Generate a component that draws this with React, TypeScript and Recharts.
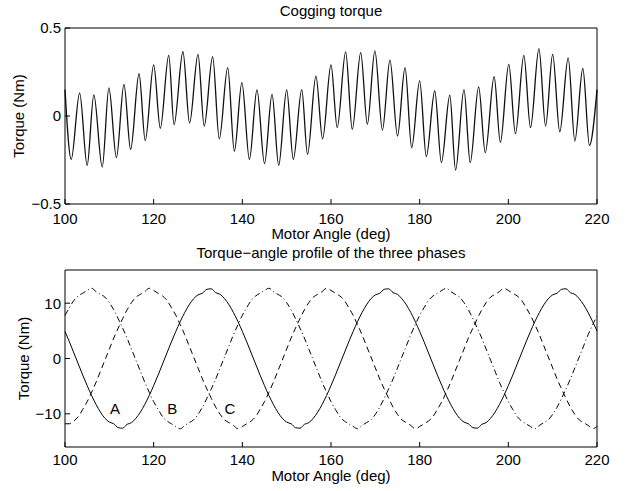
import { LineChart, Line, XAxis, YAxis, ReferenceDot } from "recharts";

const FONT = '"Liberation Sans", Arial, Helvetica, sans-serif';

const angleTicks = [100, 120, 140, 160, 180, 200, 220];
const coggingTicks = [-0.5, 0, 0.5];
const phaseTicks = [-10, 0, 10];

// cogging torque: peaks and troughs
const coggingAngle = [
  100, 101.4, 103.3, 105.0, 106.5, 108.4, 109.9, 111.6, 113.3, 114.8,
  116.7, 118.1, 120.0, 121.5, 123.4, 124.6, 126.6, 128.1, 130.0, 131.4,
  133.3, 134.8, 136.7, 138.2, 139.9, 141.6, 143.3, 145.0, 146.7, 148.2,
  150.0, 151.5, 153.4, 154.7, 156.6, 158.1, 160.0, 161.4, 163.3, 164.8,
  166.7, 168.2, 169.9, 171.6, 173.3, 175.0, 176.7, 178.2, 180.0, 181.5,
  183.4, 184.9, 186.8, 188.1, 190.0, 191.4, 193.3, 194.8, 196.8, 198.2,
  200.1, 201.6, 203.5, 205.0, 206.9, 208.4, 210.0, 211.6, 213.5, 215.0,
  216.8, 218.3, 220,
];
const coggingTorque = [
  0.15, -0.246, 0.13, -0.28, 0.12, -0.29, 0.16, -0.237, 0.18, -0.19,
  0.24, -0.14, 0.29, -0.07, 0.345, -0.05, 0.365, -0.04, 0.35, -0.057,
  0.337, -0.13, 0.275, -0.2, 0.19, -0.246, 0.148, -0.27, 0.123, -0.28,
  0.148, -0.246, 0.15, -0.218, 0.227, -0.13, 0.29, -0.066, 0.364, -0.076,
  0.36, -0.047, 0.37, -0.08, 0.318, -0.114, 0.275, -0.18, 0.2, -0.23,
  0.142, -0.265, 0.118, -0.307, 0.15, -0.265, 0.165, -0.208, 0.223, -0.15,
  0.293, -0.1, 0.345, -0.066, 0.383, -0.057, 0.35, -0.09, 0.33, -0.142,
  0.27, -0.167, 0.15,
];

// torque-angle profile, sampled every degree from 100 to 220
const phaseAngle = Array.from({ length: 121 }, (_, i) => 100 + i);
const phaseA = [
  4.9, 3.0, 1.0, -1.0, -3.0, -4.9, -6.7, -8.3, -9.7, -10.8,
  -11.5, -11.8, -12.5, -12.6, -11.9, -11.6, -10.8, -9.7, -8.3, -6.7,
  -4.9, -3.0, -1.0, 1.0, 3.0, 4.9, 6.7, 8.3, 9.7, 10.8,
  11.5, 11.8, 12.5, 12.6, 11.9, 11.6, 10.8, 9.7, 8.3, 6.7,
  4.9, 3.0, 1.0, -1.0, -3.0, -4.9, -6.7, -8.3, -9.7, -10.8,
  -11.5, -11.8, -12.5, -12.6, -11.9, -11.6, -10.8, -9.7, -8.3, -6.7,
  -4.9, -3.0, -1.0, 1.0, 3.0, 4.9, 6.7, 8.3, 9.7, 10.8,
  11.5, 11.8, 12.5, 12.6, 11.9, 11.6, 10.8, 9.7, 8.3, 6.7,
  4.9, 3.0, 1.0, -1.0, -3.0, -4.9, -6.7, -8.3, -9.7, -10.8,
  -11.5, -11.8, -12.5, -12.6, -11.9, -11.6, -10.8, -9.7, -8.3, -6.7,
  -4.9, -3.0, -1.0, 1.0, 3.0, 4.9, 6.7, 8.3, 9.7, 10.8,
  11.5, 11.8, 12.5, 12.6, 11.9, 11.6, 10.8, 9.7, 8.3, 6.7,
  5.0,
];
const phaseB = [
  7.8, 9.2, 10.5, 11.3, 11.8, 12.3, 12.7, 12.1, 11.6, 11.1,
  10.1, 8.8, 7.2, 5.5, 3.7, 1.7, -0.3, -2.3, -4.3, -6.1,
  -7.8, -9.2, -10.5, -11.3, -11.8, -12.3, -12.7, -12.1, -11.6, -11.1,
  -10.1, -8.8, -7.2, -5.5, -3.7, -1.7, 0.3, 2.3, 4.3, 6.1,
  7.8, 9.2, 10.5, 11.3, 11.8, 12.3, 12.7, 12.1, 11.6, 11.1,
  10.1, 8.8, 7.2, 5.5, 3.7, 1.7, -0.3, -2.3, -4.3, -6.1,
  -7.8, -9.2, -10.5, -11.3, -11.8, -12.3, -12.7, -12.1, -11.6, -11.1,
  -10.1, -8.8, -7.2, -5.5, -3.7, -1.7, 0.3, 2.3, 4.3, 6.1,
  7.8, 9.2, 10.5, 11.3, 11.8, 12.3, 12.7, 12.1, 11.6, 11.1,
  10.1, 8.8, 7.2, 5.5, 3.7, 1.7, -0.3, -2.3, -4.3, -6.1,
  -7.8, -9.2, -10.5, -11.3, -11.8, -12.3, -12.7, -12.1, -11.6, -11.1,
  -10.1, -8.8, -7.2, -5.5, -3.7, -1.7, 0.3, 2.3, 4.3, 6.1,
  7.6,
];
const phaseC = [
  -11.8, -11.8, -11.3, -10.5, -9.2, -7.8, -6.1, -4.3, -2.3, -0.3,
  1.7, 3.7, 5.5, 7.2, 8.8, 10.1, 11.1, 11.6, 12.1, 12.7,
  12.3, 11.8, 11.3, 10.5, 9.2, 7.8, 6.1, 4.3, 2.3, 0.3,
  -1.7, -3.7, -5.5, -7.2, -8.8, -10.1, -11.1, -11.6, -12.1, -12.7,
  -12.3, -11.8, -11.3, -10.5, -9.2, -7.8, -6.1, -4.3, -2.3, -0.3,
  1.7, 3.7, 5.5, 7.2, 8.8, 10.1, 11.1, 11.6, 12.1, 12.7,
  12.3, 11.8, 11.3, 10.5, 9.2, 7.8, 6.1, 4.3, 2.3, 0.3,
  -1.7, -3.7, -5.5, -7.2, -8.8, -10.1, -11.1, -11.6, -12.1, -12.7,
  -12.3, -11.8, -11.3, -10.5, -9.2, -7.8, -6.1, -4.3, -2.3, -0.3,
  1.7, 3.7, 5.5, 7.2, 8.8, 10.1, 11.1, 11.6, 12.1, 12.7,
  12.3, 11.8, 11.3, 10.5, 9.2, 7.8, 6.1, 4.3, 2.3, 0.3,
  -1.7, -3.7, -5.5, -7.2, -8.8, -10.1, -11.1, -11.6, -12.1, -12.7,
  -12.3,
];

const phaseNames = ["A", "B", "C"];
const phaseLabelAngle = [111.3, 124.2, 137.2];
const phaseLabelTorque = [-9, -9, -9];

const fmt = (v: number) => (v < 0 ? "\u2212" + Math.abs(v) : String(v));

const black = { stroke: "#000", strokeWidth: 1 };
const tickStyle = { fontSize: 15, fill: "#000", fontFamily: FONT };
const labelStyle = { fontSize: 15, fill: "#000", fontFamily: FONT };

function CoggingChart() {
  const data = coggingAngle.map((a, i) => ({ angle: a, torque: coggingTorque[i] }));
  return (
    <LineChart width={625} height={250} data={data} margin={{ top: 27, right: 27, bottom: 0, left: 0 }}>
      <XAxis
        xAxisId="b" dataKey="angle" type="number" domain={[100, 220]}
        ticks={angleTicks} interval={0} tick={tickStyle}
        tickSize={-5} tickMargin={14} height={46}
        axisLine={black} tickLine={black}
        label={{ value: "Motor Angle (deg)", position: "insideBottom", offset: 11, ...labelStyle }}
      />
      <XAxis
        xAxisId="t" orientation="top" dataKey="angle" type="number" domain={[100, 220]}
        ticks={angleTicks} interval={0} tick={false}
        tickSize={-5} height={1}
        axisLine={black} tickLine={black}
        label={{ value: "Cogging torque", position: "top", offset: 11.5, ...labelStyle }}
      />
      <YAxis
        yAxisId="l" type="number" domain={[-0.5, 0.5]}
        ticks={coggingTicks} interval={0} tick={tickStyle} tickFormatter={fmt}
        tickSize={-5} tickMargin={9} width={65}
        axisLine={black} tickLine={black}
        label={{
          value: "Torque (Nm)", angle: -90, position: "insideLeft", offset: 19,
          ...labelStyle, style: { textAnchor: "middle" },
        }}
      />
      <YAxis
        yAxisId="r" orientation="right" type="number" domain={[-0.5, 0.5]}
        ticks={coggingTicks} interval={0} tick={false}
        tickSize={-5} width={1}
        axisLine={black} tickLine={black}
      />
      <Line
        xAxisId="b" yAxisId="l" dataKey="torque" type="monotone"
        stroke="#111" strokeWidth={1.3} dot={false} isAnimationActive={false}
      />
    </LineChart>
  );
}

function PhaseChart() {
  const data = phaseAngle.map((a, i) => ({ angle: a, A: phaseA[i], B: phaseB[i], C: phaseC[i] }));
  return (
    <LineChart width={625} height={251} data={data} margin={{ top: 29, right: 27, bottom: 0, left: 0 }}>
      <XAxis
        xAxisId="b" dataKey="angle" type="number" domain={[100, 220]}
        ticks={angleTicks} interval={0} tick={tickStyle}
        tickSize={-5} tickMargin={12} height={44}
        axisLine={black} tickLine={black}
        label={{ value: "Motor Angle (deg)", position: "insideBottom", offset: 10, ...labelStyle }}
      />
      <XAxis
        xAxisId="t" orientation="top" dataKey="angle" type="number" domain={[100, 220]}
        ticks={angleTicks} interval={0} tick={false}
        tickSize={-5} height={1}
        axisLine={black} tickLine={black}
        label={{ value: "Torque\u2212angle profile of the three phases", position: "top", offset: 11, ...labelStyle }}
      />
      <YAxis
        yAxisId="l" type="number" domain={[-16, 16]}
        ticks={phaseTicks} interval={0} tick={tickStyle} tickFormatter={fmt}
        tickSize={-5} tickMargin={9} width={65}
        axisLine={black} tickLine={black}
        label={{
          value: "Torque (Nm)", angle: -90, position: "insideLeft", offset: 24,
          ...labelStyle, style: { textAnchor: "middle" },
        }}
      />
      <YAxis
        yAxisId="r" orientation="right" type="number" domain={[-16, 16]}
        ticks={phaseTicks} interval={0} tick={false}
        tickSize={-5} width={1}
        axisLine={black} tickLine={black}
      />
      <Line xAxisId="b" yAxisId="l" dataKey="A" type="monotone" stroke="#000" strokeWidth={1}
        dot={false} isAnimationActive={false} />
      <Line xAxisId="b" yAxisId="l" dataKey="B" type="monotone" stroke="#000" strokeWidth={1}
        strokeDasharray="6 3 1 3" dot={false} isAnimationActive={false} />
      <Line xAxisId="b" yAxisId="l" dataKey="C" type="monotone" stroke="#000" strokeWidth={1}
        strokeDasharray="6 4" dot={false} isAnimationActive={false} />
      {phaseNames.map((name, i) => (
        <ReferenceDot
          key={name} xAxisId="b" yAxisId="l"
          x={phaseLabelAngle[i]} y={phaseLabelTorque[i]} r={0}
          fill="none" stroke="none"
          label={{ value: name, position: "center", ...labelStyle }}
        />
      ))}
    </LineChart>
  );
}

export default function App() {
  return (
    <div style={{ position: "absolute", left: 0, top: 0, width: 625, height: 491, background: "#fff", fontFamily: FONT }}>
      <div style={{ position: "absolute", left: 0, top: 0 }}>
        <CoggingChart />
      </div>
      <div style={{ position: "absolute", left: 0, top: 240 }}>
        <PhaseChart />
      </div>
    </div>
  );
}
